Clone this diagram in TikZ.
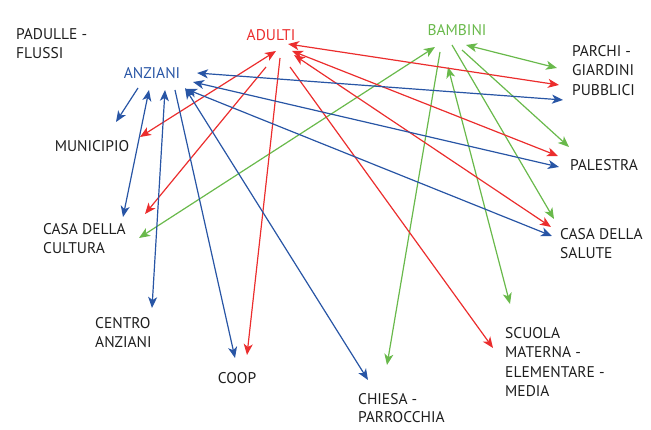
\documentclass[tikz,border=0pt]{standalone}
\usepackage{fontspec}
\setmainfont{PT Sans}
\usetikzlibrary{arrows.meta}
\definecolor{cblue}{RGB}{40,85,165}
\definecolor{cred}{RGB}{235,45,45}
\definecolor{cgreen}{RGB}{105,185,75}
\definecolor{ctext}{RGB}{30,30,30}
\tikzset{
  lbl/.style={font=\fontsize{15.5}{19.5}\selectfont, text=ctext, align=left, inner sep=0pt},
  hub/.style={font=\fontsize{15.5}{19}\selectfont, inner sep=0pt},
  head/.tip={Stealth[length=11pt,width=9pt,inset=3pt]},
  one/.style={-head, line width=1.2pt},
  two/.style={head-head, line width=1.2pt},
  bl/.style={draw=cblue},
  rd/.style={draw=cred},
  gr/.style={draw=cgreen},
}
\begin{document}
\begin{tikzpicture}[x=1pt,y=-1pt]
\useasboundingbox (0,0) rectangle (651,430);
% hubs
\node[hub, text=cred] (adulti) at (271,35) {ADULTI};
\node[hub, text=cgreen] (bambini) at (457,30) {BAMBINI};
\node[hub, text=cblue] (anziani) at (152,73) {ANZIANI};
% places
\node[lbl, anchor=north west] (padulle) at (16,28) {PADULLE -\\FLUSSI};
\node[lbl, anchor=north west] (parchi) at (572,45) {PARCHI -\\GIARDINI\\PUBBLICI};
\node[lbl, anchor=west] (palestra) at (570,165) {PALESTRA};
\node[lbl, anchor=north west] (salute) at (560,228) {CASA DELLA\\SALUTE};
\node[lbl, anchor=north west] (scuola) at (505,327) {SCUOLA\\MATERNA -\\ELEMENTARE -\\MEDIA};
\node[lbl, anchor=north west, font=\fontsize{15.5}{18}\selectfont] (chiesa) at (358,393) {CHIESA -\\PARROCCHIA};
\node[lbl, anchor=north west] (cultura) at (43,223) {CASA DELLA\\CULTURA};
\node[lbl, anchor=north west] (centro) at (95,317) {CENTRO\\ANZIANI};
\node[lbl] (coop) at (237,378) {COOP};
\node[lbl] (municipio) at (92,146) {MUNICIPIO};
% endpoint coordinates
% blue
\coordinate (b1s) at (138,88);  \coordinate (b1e) at (116,122);
\coordinate (b2s) at (149,90);  \coordinate (b2e) at (123,217);
\coordinate (b3s) at (165,90);  \coordinate (b3e) at (152,308);
\coordinate (b4s) at (175,90);  \coordinate (b4e) at (235,358);
\coordinate (b5s) at (185,88);  \coordinate (b5e) at (368,380);
\coordinate (b6s) at (197,73);  \coordinate (b6e) at (563,100);
\coordinate (b7s) at (193,82);  \coordinate (b7e) at (559,167);
\coordinate (b8s) at (186,89);  \coordinate (b8e) at (552,236);
% red
\coordinate (r1s) at (276,51);  \coordinate (r1e) at (140,137);
\coordinate (r2s) at (266,67);  \coordinate (r2e) at (145,214);
\coordinate (r3s) at (280,58);  \coordinate (r3e) at (247,355);
\coordinate (r4s) at (290,67);  \coordinate (r4e) at (493,348);
\coordinate (r5s) at (288,44);  \coordinate (r5e) at (559,85);
\coordinate (r6s) at (292,51);  \coordinate (r6e) at (558,156);
\coordinate (r7s) at (294,55);  \coordinate (r7e) at (551,227);
% green
\coordinate (g1s) at (435,47);  \coordinate (g1e) at (139,238);
\coordinate (g2s) at (440,52);  \coordinate (g2e) at (387,365);
\coordinate (g3s) at (448,67);  \coordinate (g3e) at (510,304);
\coordinate (g4s) at (452,45);  \coordinate (g4e) at (554,219);
\coordinate (g5s) at (462,50);  \coordinate (g5e) at (569,147);
\coordinate (g6s) at (466,45);  \coordinate (g6e) at (557,68);
% green arrows
\draw[two,gr] (g1s) -- (g1e);
\draw[one,gr] (g2s) -- (g2e);
\draw[two,gr] (g3s) -- (g3e);
\draw[one,gr] (g4s) -- (g4e);
\draw[one,gr] (g5s) -- (g5e);
\draw[two,gr] (g6s) -- (g6e);
% red arrows
\draw[two,rd] (r1s) -- (r1e);
\draw[one,rd] (r2s) -- (r2e);
\draw[one,rd] (r3s) -- (r3e);
\draw[one,rd] (r4s) -- (r4e);
\draw[two,rd] (r5s) -- (r5e);
\draw[two,rd] (r6s) -- (r6e);
\draw[two,rd] (r7s) -- (r7e);
% blue arrows
\draw[one,bl] (b1s) -- (b1e);
\draw[two,bl] (b2s) -- (b2e);
\draw[two,bl] (b3s) -- (b3e);
\draw[one,bl] (b4s) -- (b4e);
\draw[two,bl] (b5s) -- (b5e);
\draw[two,bl] (b6s) -- (b6e);
\draw[two,bl] (b7s) -- (b7e);
\draw[two,bl] (b8s) -- (b8e);
\end{tikzpicture}
\end{document}
